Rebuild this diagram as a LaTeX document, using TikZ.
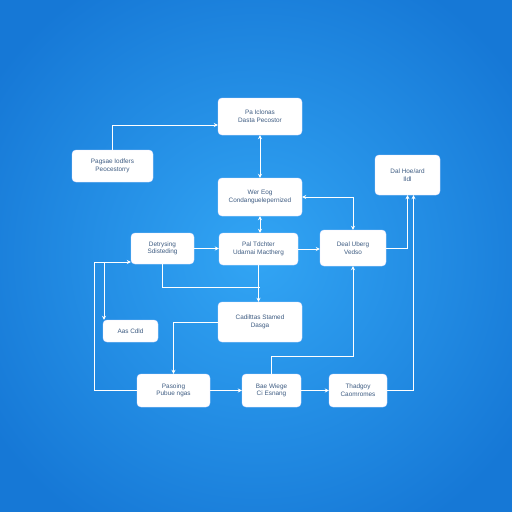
\documentclass[tikz,border=0pt]{standalone}
\usepackage{fontspec}
\setmainfont{Liberation Sans}
\usetikzlibrary{arrows.meta}
\definecolor{bgin}{RGB}{50,165,244}
\definecolor{bgout}{RGB}{22,120,214}
\definecolor{txt}{RGB}{62,92,130}
\begin{document}
\begin{tikzpicture}[x=1pt,y=-1pt,
  box/.style={draw=white!90!blue,fill=white,rounded corners=4pt,text=txt,
    font=\fontsize{6.4}{7.6}\selectfont,align=center,inner sep=1pt},
  conn/.style={draw=white,line width=0.8pt,-{Stealth[length=4pt,width=4pt]}},
  plain/.style={draw=white,line width=0.8pt},
  both/.style={draw=white,line width=0.8pt,{Stealth[length=4pt,width=4pt]}-{Stealth[length=4pt,width=4pt]}}]
\useasboundingbox (0,0) rectangle (512,512);
\shade[inner color=bgin,outer color=bgout] (-60,-60) rectangle (572,572);
\node[box,minimum width=84pt,minimum height=37pt] (n1) at (260,116.5) {Pa Iclonas\\Dasta Pecostor};
\node[box,minimum width=81pt,minimum height=32pt] (n2) at (112.5,166) {Pagsae Iodfers\\Peocestorry};
\node[box,minimum width=84pt,minimum height=38pt] (n3) at (260,197) {Wer Eog\\Condanguelepernized};
\node[box,minimum width=65pt,minimum height=40pt] (n4) at (407.5,175) {Dal Hoe/ard\\Ildl};
\node[box,minimum width=63pt,minimum height=31pt] (n5) at (162.5,248.5) {Detrysing\\Sdisteding};
\node[box,minimum width=79pt,minimum height=32pt] (n6) at (258.5,249) {Pal Tdchter\\Udarnai Mactherg};
\node[box,minimum width=66pt,minimum height=36pt] (n7) at (353,248) {Deal Uberg\\Vedso};
\node[box,minimum width=55pt,minimum height=22pt] (n8) at (130.5,331) {Aas Cdld};
\node[box,minimum width=84pt,minimum height=40pt] (n9) at (260,322) {Cadilttas Stamed\\Dasga};
\node[box,minimum width=73pt,minimum height=33pt] (n10) at (173.5,390.5) {Pasoing\\Pubue ngas};
\node[box,minimum width=59pt,minimum height=33pt] (n11) at (271.5,390.5) {Bae Wiege\\Ci Esnang};
\node[box,minimum width=58pt,minimum height=33pt] (n12) at (358,390.5) {Thadgoy\\Caomromes};
\coordinate (j1) at (260,287);
\coordinate (c1) at (94,262);
\coordinate (c2) at (104,262);
% connectors
\draw[conn] (n2.north) |- ([yshift=-8.5pt]n1.west);
\draw[both] (n1.south) -- (n3.north);
\draw[both] (n3.east) -| (n7.north);
\draw[both] (n3.south) -- (n3.south |- n6.north);
\draw[conn] (n5.east) -- (n5.east -| n6.west);
\draw[conn] (n6.east) -- (n6.east -| n7.west);
\draw[conn] (n7.east) -| (n4.south);
\draw[conn] (n12.east) -| ([xshift=6pt]n4.south);
\draw[conn] (n6.south) -- (n6.south |- n9.north);
\draw[plain] (n5.south) |- (j1);
\draw[conn] (n9.west) -| (n10.north);
\draw[conn] (n10.west) -| (c1) -- (c1 -| n5.west);
\draw[conn] (c2) -- (c2 |- n8.north);
\draw[conn] (n10.east) -- (n10.east -| n11.west);
\draw[conn] (n11.east) -- (n11.east -| n12.west);
\draw[conn] (n11.north) -- ++(0,-17) -| (n7.south);
\end{tikzpicture}
\end{document}
